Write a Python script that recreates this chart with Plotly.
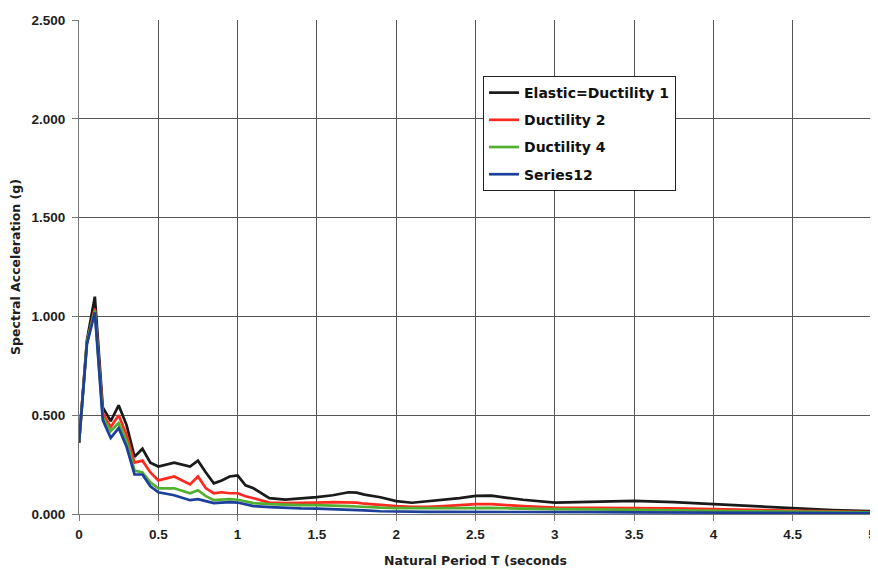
import plotly.graph_objects as go

periods = [0, 0.05, 0.1, 0.15, 0.2, 0.25, 0.3, 0.35, 0.4, 0.45, 0.5, 0.6, 0.7, 0.75, 0.8,
           0.85, 0.9, 0.95, 1.0, 1.05, 1.1, 1.2, 1.3, 1.4, 1.5, 1.6, 1.7, 1.75, 1.8, 1.9,
           2.0, 2.1, 2.2, 2.3, 2.4, 2.5, 2.6, 2.7, 2.8, 3.0, 3.25, 3.5, 3.75, 4.0, 4.25,
           4.5, 4.75, 5.0]

elastic = [0.36, 0.88, 1.10, 0.54, 0.47, 0.55, 0.45, 0.29, 0.33, 0.26, 0.24, 0.26, 0.24, 0.27, 0.21,
           0.155, 0.17, 0.19, 0.195, 0.145, 0.13, 0.08, 0.073, 0.078, 0.085, 0.095, 0.11, 0.108, 0.098, 0.085,
           0.065, 0.057, 0.065, 0.075, 0.08, 0.092, 0.093, 0.082, 0.072, 0.058, 0.062, 0.066, 0.06, 0.05, 0.037,
           0.027, 0.02, 0.014]

ductility2 = [0.36, 0.87, 1.04, 0.51, 0.44, 0.50, 0.40, 0.26, 0.27, 0.21, 0.17, 0.19, 0.15, 0.19, 0.13,
              0.105, 0.11, 0.105, 0.105, 0.09, 0.08, 0.058, 0.055, 0.055, 0.058, 0.06, 0.06, 0.058, 0.052, 0.045,
              0.04, 0.036, 0.036, 0.04, 0.045, 0.05, 0.05, 0.044, 0.04, 0.033, 0.032, 0.03, 0.028, 0.025, 0.02,
              0.017, 0.013, 0.01]

ductility4 = [0.36, 0.87, 1.03, 0.49, 0.42, 0.46, 0.37, 0.22, 0.21, 0.16, 0.13, 0.13, 0.105, 0.12, 0.09,
              0.07, 0.073, 0.075, 0.072, 0.062, 0.055, 0.05, 0.047, 0.045, 0.045, 0.044, 0.04, 0.038, 0.035, 0.032,
              0.03, 0.029, 0.029, 0.03, 0.03, 0.031, 0.031, 0.029, 0.027, 0.025, 0.023, 0.02, 0.018, 0.016, 0.014,
              0.012, 0.01, 0.008]

series12 = [0.36, 0.86, 1.02, 0.475, 0.385, 0.435, 0.34, 0.2, 0.2, 0.14, 0.11, 0.095, 0.07, 0.075, 0.065,
            0.055, 0.058, 0.06, 0.058, 0.048, 0.04, 0.035, 0.03, 0.028, 0.027, 0.025, 0.022, 0.02, 0.018, 0.014,
            0.012, 0.012, 0.011, 0.011, 0.011, 0.012, 0.012, 0.011, 0.01, 0.009, 0.009, 0.008, 0.008, 0.007, 0.007,
            0.006, 0.006, 0.005]

names = ["Elastic=Ductility 1", "Ductility 2", "Ductility 4", "Series12"]
colors = ["#1a1a1a", "#ff2a1f", "#52b030", "#1c3f9a"]
values = [elastic, ductility2, ductility4, series12]

x_ticks = [0, 0.5, 1, 1.5, 2, 2.5, 3, 3.5, 4, 4.5, 5]
x_labels = ["0", "0.5", "1", "1.5", "2", "2.5", "3", "3.5", "4", "4.5", "5"]
y_ticks = [0, 0.5, 1.0, 1.5, 2.0, 2.5]
y_labels = ["0.000", "0.500", "1.000", "1.500", "2.000", "2.500"]

fig = go.Figure()
for i, (n, c, v) in enumerate(zip(names, colors, values)):
    fig.add_trace(go.Scatter(x=periods, y=v, mode="lines", name=n, legendgroup="g%d" % i,
                             line=dict(color=c, width=2.7)))

tick_font = dict(family="Liberation Sans, Arial, sans-serif", size=13.5, weight="bold", color="#1e1e1e")
title_font = dict(family="DejaVu Sans, sans-serif", size=12.5, weight="bold", color="#1e1e1e")

# page body has an 8px default margin; the figure is sized to fit the window
fig.update_layout(
    width=870, height=563,
    margin=dict(l=71, r=6, t=12, b=57),
    paper_bgcolor="white", plot_bgcolor="white",
    showlegend=True,
    legend=dict(x=0.5095, y=0.8866, xanchor="left", yanchor="top",
                bgcolor="white", bordercolor="#222", borderwidth=1,
                font=dict(family="DejaVu Sans, sans-serif", size=14, color="#111", weight="bold"),
                traceorder="grouped", tracegroupgap=6, itemwidth=30),
    xaxis=dict(range=[0, 5], tickvals=x_ticks, ticktext=x_labels,
               showgrid=True, gridcolor="#555", gridwidth=1,
               showline=True, linecolor="#777", linewidth=1,
               ticks="outside", ticklen=6, tickcolor="#777", ticklabelstandoff=2,
               zeroline=False, automargin=False,
               tickfont=tick_font,
               title=dict(text="Natural Period T (seconds", font=title_font, standoff=15)),
    yaxis=dict(range=[0, 2.5], tickvals=y_ticks, ticktext=y_labels,
               showgrid=True, gridcolor="#555", gridwidth=1,
               showline=True, linecolor="#777", linewidth=1,
               ticks="outside", ticklen=6, tickcolor="#777", ticklabelstandoff=4,
               zeroline=False, automargin=False,
               tickfont=tick_font,
               title=dict(text="Spectral Acceleration (g)", font=title_font, standoff=10)),
)

fig.write_html("out.html")
